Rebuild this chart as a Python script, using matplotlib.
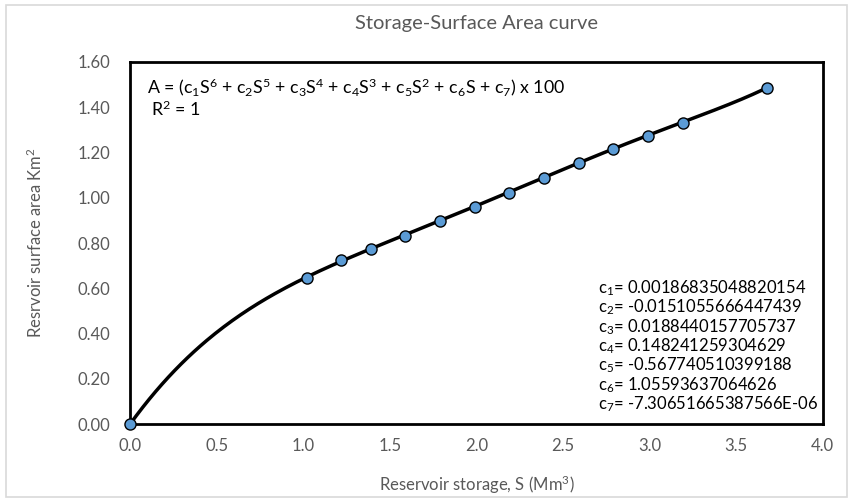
import numpy as np
import matplotlib
matplotlib.use("Agg")
import matplotlib.pyplot as plt
from matplotlib.patches import Rectangle

plt.rcParams["font.family"] = ["Lato", "DejaVu Sans"]
plt.rcParams["mathtext.fontset"] = "custom"
plt.rcParams["mathtext.rm"] = "Lato"
plt.rcParams["mathtext.it"] = "Lato:italic"

# === Data ===
storage = [0.0, 1.02, 1.22, 1.39, 1.59, 1.79, 1.99, 2.19, 2.39, 2.59, 2.79, 2.99, 3.19, 3.68]
area = [0.0, 0.645, 0.725, 0.773, 0.831, 0.897, 0.959, 1.021, 1.087, 1.154, 1.215, 1.273, 1.330, 1.485]

# trendline coefficients as printed on the chart (c1..c7)
coef = [0.00186835048820154, -0.0151055666447439, 0.0188440157705737,
        0.148241259304629, -0.567740510399188, 1.05593637064626,
        -7.30651665387566E-06]
coef_labels = ["0.00186835048820154", "-0.0151055666447439", "0.0188440157705737",
               "0.148241259304629", "-0.567740510399188", "1.05593637064626",
               "-7.30651665387566E-06"]

x_ticks = [0.0, 0.5, 1.0, 1.5, 2.0, 2.5, 3.0, 3.5, 4.0]
y_ticks = [0.0, 0.2, 0.4, 0.6, 0.8, 1.0, 1.2, 1.4, 1.6]

grey = "#595959"

fig = plt.figure(figsize=(8.5, 4.99), dpi=100)
fig.patches.append(Rectangle((0.007, 0.004), 0.99, 0.986, transform=fig.transFigure,
                             fill=False, edgecolor="#d9d9d9", lw=1.2))
ax = fig.add_axes([0.153, 0.150, 0.815, 0.726])

# trendline
s = np.linspace(0, max(storage), 300)
ax.plot(s, np.polyval(coef, s), color="black", lw=2.5, zorder=2)
ax.plot(storage, area, "o", ms=8, mfc="#5b9bd5", mec="black", mew=1.0, zorder=3, clip_on=False)

ax.set_xlim(0, 4)
ax.set_ylim(0, 1.6)
ax.set_xticks(x_ticks)
ax.set_xticklabels([f"{v:.1f}" for v in x_ticks])
ax.set_yticks(y_ticks)
ax.set_yticklabels([f"{v:.2f}" for v in y_ticks])
ax.tick_params(length=0, labelsize=12, labelcolor=grey)
ax.tick_params(axis="x", pad=10)
ax.tick_params(axis="y", pad=14)
for sp in ax.spines.values():
    sp.set_linewidth(2)
    sp.set_color("black")

ax.set_title("Storage-Surface Area curve", fontsize=14.5, color=grey, pad=24)
ax.set_xlabel("Reservoir storage, S (Mm$^3$)", fontsize=12, color=grey, labelpad=14)
ax.set_ylabel("Resrvoir surface area Km$^2$", fontsize=12, color=grey, labelpad=24)

eq = (r"A = (c$_1$S$^6$ + c$_2$S$^5$ + c$_3$S$^4$ + c$_4$S$^3$ + "
      r"c$_5$S$^2$ + c$_6$S + c$_7$) x 100")
ax.text(0.025, 0.93, eq, transform=ax.transAxes, fontsize=12.8, va="center")
ax.text(0.03, 0.868, r"R$^2$ = 1", transform=ax.transAxes, fontsize=12.8, va="center")

for i, lab in enumerate(coef_labels):
    ax.text(0.675, 0.376 - i * 0.0535, f"c$_{i + 1}$= {lab}", transform=ax.transAxes,
            fontsize=12.0, va="center")

plt.savefig("out.png", dpi=100)
